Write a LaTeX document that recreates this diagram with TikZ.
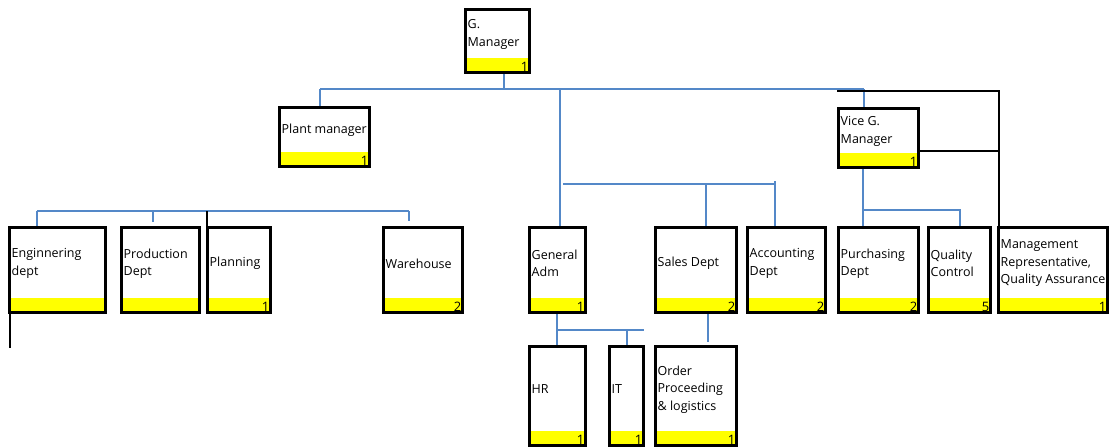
\documentclass[tikz,border=0pt]{standalone}
\usepackage{fontspec}
\setmainfont{Open Sans}
\usetikzlibrary{backgrounds}
\definecolor{conblue}{RGB}{84,136,200}
\definecolor{baryellow}{RGB}{255,255,0}
\tikzset{
  obox/.style={draw=black, line width=3pt, fill=white, inner sep=0pt,
    path picture={\fill[baryellow] (path picture bounding box.south west) rectangle ([yshift=14.5pt]path picture bounding box.south east);}},
  otext/.style={inner sep=0pt, align=left, font=\fontsize{12.5}{17.5}\selectfont, anchor=west},
  onum/.style={inner sep=0pt, font=\fontsize{13}{14}\selectfont, anchor=base east},
  bl/.style={draw=conblue, line width=1.2pt},
  bk/.style={draw=black, line width=1.8pt}
}
\newcommand\obox[7]{%
  \node[obox, minimum width={(#4-#2-3)*1pt}, minimum height={(#5-#3-3)*1pt}] (#1) at ({(#2+#4)/2},{(#3+#5)/2}) {};
  \node[otext] (#1-t) at ([xshift=3.5pt,yshift=6.5pt]#1.west) {#6};
  \node[onum] (#1-n) at ([xshift=-2.5pt,yshift=2.5pt]#1.south east) {#7};
}
\begin{document}
\begin{tikzpicture}[x=1pt,y=-1pt]
\useasboundingbox (0,0) rectangle (1110,447);
\obox{gm}{464}{8}{531}{74}{G.\\Manager}{1}
\obox{pm}{278}{106}{371}{168}{Plant manager}{1}
\obox{vgm}{837}{107}{920}{169}{Vice G.\\Manager}{1}
\obox{eng}{8}{226}{107}{314}{Enginnering\\dept}{}
\obox{prod}{120}{226}{201}{314}{Production\\Dept}{}
\obox{plan}{206}{226}{272}{314}{Planning}{1}
\obox{ware}{382}{226}{464}{314}{Warehouse}{2}
\obox{gadm}{528}{226}{587}{314}{General\\Adm}{1}
\obox{sales}{654}{226}{738}{314}{Sales Dept}{2}
\obox{acc}{746}{226}{827}{314}{Accounting\\Dept}{2}
\obox{purch}{837}{226}{920}{314}{Purchasing\\Dept}{2}
\obox{qc}{927}{226}{992}{314}{Quality\\Control}{5}
\obox{mr}{997}{226}{1109}{314}{Management\\Representative,\\Quality Assurance}{1}
\obox{hr}{528}{345}{587}{447}{HR}{1}
\obox{it}{608}{345}{645}{447}{IT}{1}
\obox{order}{654}{345}{738}{447}{Order\\Proceeding\\\& logistics}{1}
\begin{pgfonlayer}{background}
% top bus
\coordinate (b1L) at (320,89);
\coordinate (b1R) at (864,89);
\coordinate (gmj) at (504,89);
\coordinate (gaj) at (560,89);
\draw[bl] (b1L) -- (b1R);
\draw[bl] (gmj) -- (gmj |- gm.south);
\draw[bl] (b1L) -- (b1L |- pm.north);
\draw[bl] (gaj) -- (gaj |- gadm.north);
\draw[bl] (b1R) -- (b1R |- vgm.north);
% black lines to management representative
\coordinate (k0) at (837,91);
\coordinate (mrj) at (999,91);
\coordinate (vk) at (999,151);
\draw[bk] (k0) -- (mrj) -- (mrj |- mr.north);
\draw[bk] (vgm.east |- vk) -- (vk);
% vice g manager children
\coordinate (vj) at (863,210);
\coordinate (qcj) at (960,210);
\draw[bl] (vj |- vgm.south) -- (vj |- purch.north);
\draw[bl] (vj) -- (qcj) -- (qcj |- qc.north);
% middle bus
\coordinate (m1) at (563,184);
\coordinate (m2) at (775,184);
\coordinate (m2t) at (775,181);
\coordinate (sj) at (706,184);
\draw[bl] (m1) -- (m2);
\draw[bl] (sj) -- (sj |- sales.north);
\draw[bl] (m2t) -- (m2t |- acc.north);
% left bus
\coordinate (l1) at (37,211);
\coordinate (l2) at (409,211);
\coordinate (pj) at (153,211);
\coordinate (plj) at (207,211);
\draw[bl] (l1) -- (l2);
\draw[bl] (l1) -- (l1 |- eng.north);
\draw[bl] (pj) -- ([yshift=4pt]pj |- prod.north);
\draw[bl] (l2) -- ([yshift=5pt]l2 |- ware.north);
\draw[bk] (plj) -- (plj |- plan.north);
\coordinate (es) at (10,348);
\draw[bk] (es |- eng.south) -- (es);
% bottom
\coordinate (g1) at (557,330);
\coordinate (g2) at (644,330);
\coordinate (ij) at (627,330);
\coordinate (sb) at (708,342);
\draw[bl] (g1 |- gadm.south) -- (g1 |- hr.north);
\draw[bl] (g1) -- (g2);
\draw[bl] (ij) -- (ij |- it.north);
\draw[bl] (sb |- sales.south) -- (sb);
\end{pgfonlayer}
\end{tikzpicture}
\end{document}
